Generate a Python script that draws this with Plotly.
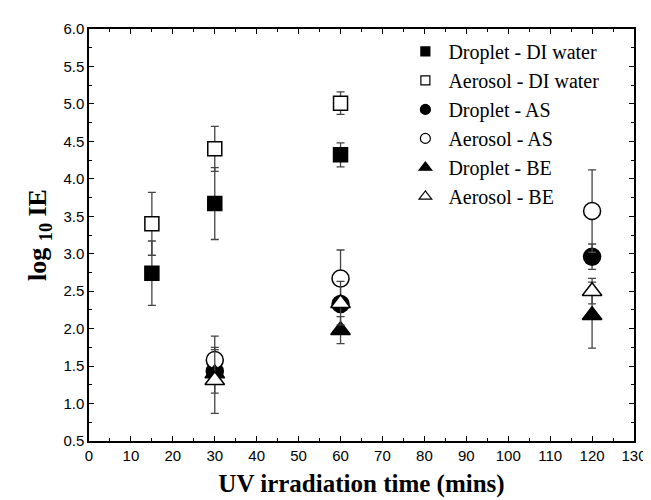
import plotly.graph_objects as go

# ---- data ----
series_names = ["Droplet - DI water", "Aerosol - DI water", "Droplet - AS",
                "Aerosol - AS", "Droplet - BE", "Aerosol - BE"]
x_di = [15, 30, 60]
droplet_di = [2.74, 3.67, 4.32]
droplet_di_err = [0.43, 0.48, 0.16]
aerosol_di = [3.40, 4.40, 5.01]
aerosol_di_err = [0.42, 0.30, 0.15]

x_other = [30, 60, 120]
droplet_as = [1.43, 2.33, 2.96]
droplet_as_err = [0.29, 0.05, 0.17]
aerosol_as = [1.58, 2.67, 3.57]
aerosol_as_err = [0.32, 0.38, 0.55]
droplet_be = [1.40, 1.98, 2.18]
droplet_be_err = [0.05, 0.18, 0.44]
aerosol_be = [1.31, 2.34, 2.50]
aerosol_be_err = [0.44, 0.29, 0.17]

x_ticks = list(range(0, 131, 10))
y_ticks = [0.5 + 0.5 * i for i in range(12)]

# ---- styles ----
symbols = ["square", "square", "circle", "circle", "triangle-up", "triangle-up"]
fills = ["black", "white", "black", "white", "black", "white"]
sizes = [14, 14, 17, 17, 17, 17]
legend_sizes = [9, 9, 10, 10, 11, 11]

xs = [x_di, x_di, x_other, x_other, x_other, x_other]
ys = [droplet_di, aerosol_di, droplet_as, aerosol_as, droplet_be, aerosol_be]
errs = [droplet_di_err, aerosol_di_err, droplet_as_err, aerosol_as_err,
        droplet_be_err, aerosol_be_err]

fig = go.Figure()
for i, name in enumerate(series_names):
    fig.add_trace(go.Scatter(
        x=xs[i], y=ys[i], mode="markers", name=name, showlegend=False,
        marker=dict(symbol=symbols[i], size=sizes[i], color=fills[i],
                    line=dict(color="black", width=1.5)),
        error_y=dict(type="data", array=errs[i], visible=True,
                     color="#444444", thickness=1.3, width=4),
    ))
for i, name in enumerate(series_names):
    fig.add_trace(go.Scatter(
        x=[None], y=[None], mode="markers", name=name, showlegend=True,
        marker=dict(symbol=symbols[i], size=legend_sizes[i], color=fills[i],
                    line=dict(color="black", width=1.2)),
    ))

axis_common = dict(
    showgrid=False, zeroline=False, showline=True, linecolor="black",
    linewidth=1.5, ticks="inside", ticklen=5, tickwidth=1.2, tickcolor="black",
    mirror="ticks",
    tickfont=dict(family="Liberation Sans, Arial", size=15, color="black"),
)

fig.update_layout(
    width=651, height=500,
    margin=dict(l=81, r=15, t=20, b=67),
    paper_bgcolor="white", plot_bgcolor="white",
    xaxis=dict(range=[0, 130], tickvals=x_ticks, ticktext=[str(v) for v in x_ticks],
               minor=dict(dtick=5, ticks="inside", ticklen=3, tickcolor="black"),
               title=dict(text="<b>UV irradiation time (mins)</b>", standoff=12,
                          font=dict(family="Liberation Serif, Times New Roman", size=25, color="black")),
               **axis_common),
    yaxis=dict(range=[0.5, 6.0], tickvals=y_ticks, ticktext=[f"{v:.1f}" for v in y_ticks],
               minor=dict(dtick=0.25, ticks="inside", ticklen=3, tickcolor="black"),
               title=dict(text="<b>log <sub>10</sub> IE</b>", standoff=9,
                          font=dict(family="Liberation Serif, Times New Roman", size=26, color="black")),
               **axis_common),
    legend=dict(x=0.575, y=0.993, xanchor="left", yanchor="top",
                bgcolor="rgba(0,0,0,0)", borderwidth=0, itemwidth=36,
                font=dict(family="Liberation Serif, Times New Roman", size=20, color="black"),
                tracegroupgap=0, itemsizing="trace"),
)

fig.write_html("out.html")
